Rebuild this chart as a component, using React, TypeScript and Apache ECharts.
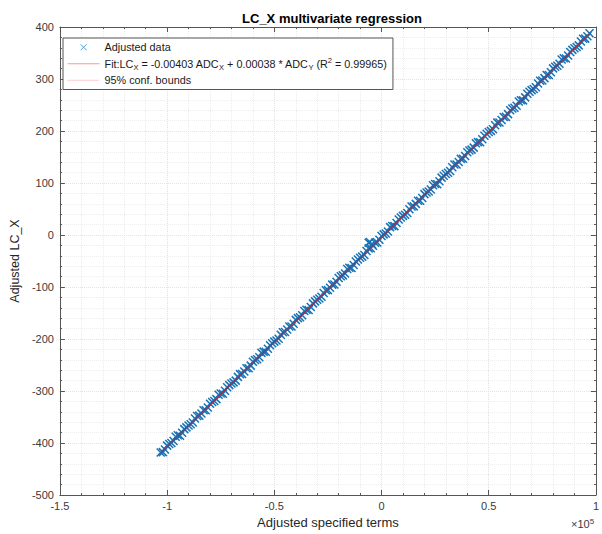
import React, { useEffect, useRef } from "react";
import * as echarts from "echarts";

// Adjusted specified terms (raw units, axis shows ×10^5)
const dataX = [
  -103000, -101000, -99000, -97000, -95000, -93000, -91000, -89000, -87000, -85000,
  -83000, -81000, -79000, -77000, -75000, -73000, -71000, -69000, -67000, -65000,
  -63000, -61000, -59000, -57000, -55000, -53000, -51000, -49000, -47000, -45000,
  -43000, -41000, -39000, -37000, -35000, -33000, -31000, -29000, -27000, -25000,
  -23000, -21000, -19000, -17000, -15000, -13000, -11000, -9000, -7000, -5000,
  -3000, -1000, 1000, 3000, 5000, 7000, 9000, 11000, 13000, 15000,
  17000, 19000, 21000, 23000, 25000, 27000, 29000, 31000, 33000, 35000,
  37000, 39000, 41000, 43000, 45000, 47000, 49000, 51000, 53000, 55000,
  57000, 59000, 61000, 63000, 65000, 67000, 69000, 71000, 73000, 75000,
  77000, 79000, 81000, 83000, 85000, 87000, 89000, 91000, 93000, 95000,
  97000, -6000, -4500, -5500,
];
// Adjusted LC_X
const dataY = [
  -418.1, -412.5, -401.8, -396.0, -385.2, -380.3, -369.9, -364.1, -353.0, -347.4,
  -337.2, -331.9, -321.1, -315.6, -304.9, -299.5, -288.7, -283.4, -272.8, -267.3,
  -256.4, -251.2, -240.5, -235.0, -224.3, -218.8, -208.2, -202.9, -192.0, -186.7,
  -176.1, -170.6, -159.9, -154.4, -143.7, -138.3, -127.6, -122.2, -111.5, -106.0,
  -95.4, -90.0, -79.2, -73.9, -63.1, -57.8, -47.0, -41.6, -30.9, -25.4,
  -14.9, -9.3, 1.2, 6.8, 17.4, 22.9, 33.5, 39.0, 49.6, 55.1,
  65.8, 71.2, 81.9, 87.4, 98.0, 103.5, 114.1, 119.6, 130.3, 135.7,
  146.4, 151.9, 162.5, 168.0, 178.6, 184.1, 194.7, 200.2, 210.9, 216.3,
  227.0, 232.5, 243.1, 248.6, 259.2, 264.7, 275.3, 280.8, 291.5, 297.0,
  307.6, 313.1, 323.7, 329.2, 339.8, 345.3, 356.0, 361.4, 372.1, 377.6,
  388.0, -15.0, -17.5, -13.5,
];
// second batch of adjusted data points
const dataX2 = [
  -102000, -100000, -98000, -96000, -94000, -92000, -90000, -88000, -86000, -84000,
  -82000, -80000, -78000, -76000, -74000, -72000, -70000, -68000, -66000, -64000,
  -62000, -60000, -58000, -56000, -54000, -52000, -50000, -48000, -46000, -44000,
  -42000, -40000, -38000, -36000, -34000, -32000, -30000, -28000, -26000, -24000,
  -22000, -20000, -18000, -16000, -14000, -12000, -10000, -8000, -6000, -4000,
  -2000, 0, 2000, 4000, 6000, 8000, 10000, 12000, 14000, 16000,
  18000, 20000, 22000, 24000, 26000, 28000, 30000, 32000, 34000, 36000,
  38000, 40000, 42000, 44000, 46000, 48000, 50000, 52000, 54000, 56000,
  58000, 60000, 62000, 64000, 66000, 68000, 70000, 72000, 74000, 76000,
  78000, 80000, 82000, 84000, 86000, 88000, 90000, 92000, 94000, 96000,
];
const dataY2 = [
  -417.6, -405.0, -400.0, -387.9, -385.9, -373.3, -366.2, -360.7, -348.1, -343.1,
  -337.0, -324.4, -319.4, -307.3, -305.3, -292.7, -285.6, -280.1, -267.5, -262.5,
  -256.4, -243.8, -238.8, -226.7, -224.7, -212.1, -205.0, -199.5, -186.9, -181.9,
  -175.8, -163.2, -158.2, -146.1, -144.1, -131.5, -124.4, -118.9, -106.3, -101.3,
  -95.2, -82.6, -77.6, -65.5, -63.5, -50.9, -43.8, -38.3, -25.7, -20.7,
  -14.6, -2.0, 3.0, 15.1, 17.1, 29.7, 36.8, 42.3, 54.9, 59.9,
  66.0, 78.6, 83.6, 95.7, 97.7, 110.3, 117.4, 122.9, 135.5, 140.5,
  146.6, 159.2, 164.2, 176.3, 178.3, 190.9, 198.0, 203.5, 216.1, 221.1,
  227.2, 239.8, 244.8, 256.9, 258.9, 271.5, 278.6, 284.1, 296.7, 301.7,
  307.8, 320.4, 325.4, 337.5, 339.5, 352.1, 359.2, 364.7, 377.3, 382.3,
];

const fitX = [-103000, 97000];
const fitY = [-419.1, 386.9];
const confUpperY = [-417.6, 388.3];
const confLowerY = [-420.6, 385.5];

const xTicks = { min: -150000, max: 100000, interval: 50000 };
const yTicks = { min: -500, max: 400, interval: 100 };

const TITLE = "LC_X multivariate regression";
const X_NAME = "Adjusted specified terms";
const Y_NAME = "Adjusted LC_X";
const NAME_DATA = "Adjusted data";
const NAME_FIT = "Fit";
const NAME_CONF = "95% conf. bounds";

const FONT = "'Liberation Sans', Arial, Helvetica, sans-serif";
const BLUE = "#1673b8";
const RED = "rgba(255,0,0,0.6)";
const XPATH = "path://M0,0L10,10M10,0L0,10";

export default function App() {
  const ref = useRef<HTMLDivElement>(null);
  useEffect(() => {
    if (!ref.current) return;
    const chart = echarts.init(ref.current, undefined, { renderer: "svg" });
    const scatter = dataX
      .map((x, i) => [x, dataY[i]])
      .concat(dataX2.map((x, i) => [x, dataY2[i]]));
    const fit = fitX.map((x, i) => [x, fitY[i]]);
    const up = fitX.map((x, i) => [x, confUpperY[i]]);
    const lo = fitX.map((x, i) => [x, confLowerY[i]]);
    const axisColor = "#555";
    const labelColor = "#3a3a3a";
    const baseX = {
      type: "value" as const,
      min: xTicks.min,
      max: xTicks.max,
      interval: xTicks.interval,
    };
    const baseY = {
      type: "value" as const,
      min: yTicks.min,
      max: yTicks.max,
      interval: yTicks.interval,
    };
    const majorGrid = { show: true, lineStyle: { color: "#e2e2e2", width: 1, type: "dotted" as const } };
    const minorGrid = { show: true, lineStyle: { color: "#ececec", width: 1, type: "dotted" as const } };
    const subStyle = { fontFamily: FONT, fontSize: 7.5, color: "#1a1a1a", lineHeight: 8, verticalAlign: "bottom" as const };
    const supStyle = { fontFamily: FONT, fontSize: 7.5, color: "#1a1a1a", lineHeight: 8, verticalAlign: "top" as const };
    chart.setOption({
      animation: false,
      backgroundColor: "#ffffff",
      title: {
        text: TITLE,
        left: 327,
        textAlign: "center",
        top: 7,
        textStyle: { fontFamily: FONT, fontSize: 13, fontWeight: "bold", color: "#000" },
      },
      grid: { left: 55, right: 4, top: 27, bottom: 39, containLabel: false },
      legend: {
        orient: "vertical",
        left: 63,
        top: 38,
        padding: [2, 6, 2, 4],
        itemGap: 2,
        itemWidth: 32,
        itemHeight: 6,
        backgroundColor: "#fff",
        borderColor: "#555",
        borderWidth: 1,
        borderRadius: 0,
        textStyle: {
          fontFamily: FONT,
          fontSize: 10.8,
          color: "#1a1a1a",
          lineHeight: 14.5,
          rich: { sub: subStyle, sup: supStyle },
        },
        data: [
          { name: NAME_DATA, icon: XPATH, itemStyle: { color: "#4aa3e0", borderColor: "#4aa3e0", borderWidth: 1 } },
          { name: NAME_FIT, itemStyle: { opacity: 0 }, lineStyle: { width: 1.2, color: "#f39b9b" } },
          { name: NAME_CONF, itemStyle: { opacity: 0 }, lineStyle: { width: 1, color: "#f39b9b", type: "dotted" } },
        ],
        formatter: (name: string) => {
          if (name === NAME_FIT)
            return "Fit:LC{sub|X} = -0.00403 ADC{sub|X} + 0.00038 * ADC{sub|Y} (R{sup|2} = 0.99965)";
          return name;
        },
      },
      xAxis: [
        {
          ...baseX,
          position: "bottom",
          name: X_NAME,
          nameLocation: "middle",
          nameGap: 21,
          nameTextStyle: { fontFamily: FONT, fontSize: 13, color: "#262626" },
          axisLine: { show: true, onZero: false, lineStyle: { color: axisColor, width: 1 } },
          axisTick: { show: true, inside: true, length: 5, lineStyle: { color: axisColor } },
          minorTick: { show: true, splitNumber: 5, length: 2, lineStyle: { color: axisColor } },
          axisLabel: {
            fontFamily: FONT,
            fontSize: 11,
            color: labelColor,
            margin: 5,
            formatter: (v: number) => String(v / 100000),
          },
          splitLine: majorGrid,
          minorSplitLine: minorGrid,
        },
        {
          ...baseX,
          position: "top",
          axisLine: { show: true, onZero: false, lineStyle: { color: axisColor, width: 1 } },
          axisTick: { show: true, inside: true, length: 5, lineStyle: { color: axisColor } },
          minorTick: { show: true, splitNumber: 5, length: 2, lineStyle: { color: axisColor } },
          axisLabel: { show: false },
          splitLine: { show: false },
        },
      ],
      yAxis: [
        {
          ...baseY,
          position: "left",
          name: Y_NAME,
          nameLocation: "middle",
          nameGap: 25,
          nameTextStyle: { fontFamily: FONT, fontSize: 12.5, color: "#262626" },
          axisLine: { show: true, onZero: false, lineStyle: { color: axisColor, width: 1 } },
          axisTick: { show: true, inside: true, length: 5, lineStyle: { color: axisColor } },
          minorTick: { show: true, splitNumber: 5, length: 2, lineStyle: { color: axisColor } },
          axisLabel: {
            fontFamily: FONT,
            fontSize: 11,
            color: labelColor,
            margin: 6,
            formatter: (v: number) => String(v),
          },
          splitLine: majorGrid,
          minorSplitLine: minorGrid,
        },
        {
          ...baseY,
          position: "right",
          axisLine: { show: true, onZero: false, lineStyle: { color: axisColor, width: 1 } },
          axisTick: { show: true, inside: true, length: 5, lineStyle: { color: axisColor } },
          minorTick: { show: true, splitNumber: 5, length: 2, lineStyle: { color: axisColor } },
          axisLabel: { show: false },
          splitLine: { show: false },
        },
      ],
      graphic: [
        {
          type: "text",
          left: 571,
          top: 517,
          style: {
            text: "×10{sup|5}",
            fontFamily: FONT,
            fontSize: 11,
            fill: labelColor,
            rich: {
              sup: { fontFamily: FONT, fontSize: 8, fill: labelColor, verticalAlign: "top", padding: [0, 0, 6, 0] },
            },
          },
        },
      ],
      series: [
        {
          name: NAME_DATA,
          type: "scatter",
          xAxisIndex: 0,
          yAxisIndex: 0,
          data: scatter,
          symbol: XPATH,
          symbolSize: 8,
          itemStyle: { color: "none", borderColor: BLUE, borderWidth: 1.5, opacity: 1 },
          z: 2,
        },
        {
          name: NAME_FIT,
          type: "line",
          data: fit,
          symbol: "none",
          lineStyle: { color: RED, width: 1 },
          itemStyle: { color: RED },
          z: 3,
        },
        {
          name: NAME_CONF,
          type: "line",
          data: up,
          symbol: "none",
          lineStyle: { color: RED, width: 0.6, type: "dotted" },
          itemStyle: { color: RED },
          z: 3,
        },
        {
          name: NAME_CONF,
          type: "line",
          data: lo,
          symbol: "none",
          lineStyle: { color: RED, width: 0.6, type: "dotted" },
          itemStyle: { color: RED },
          z: 3,
        },
      ],
    });
    return () => chart.dispose();
  }, []);
  return (
    <div
      ref={ref}
      style={{ position: "fixed", left: 0, top: 0, width: 602, height: 534, background: "#fff" }}
    />
  );
}
